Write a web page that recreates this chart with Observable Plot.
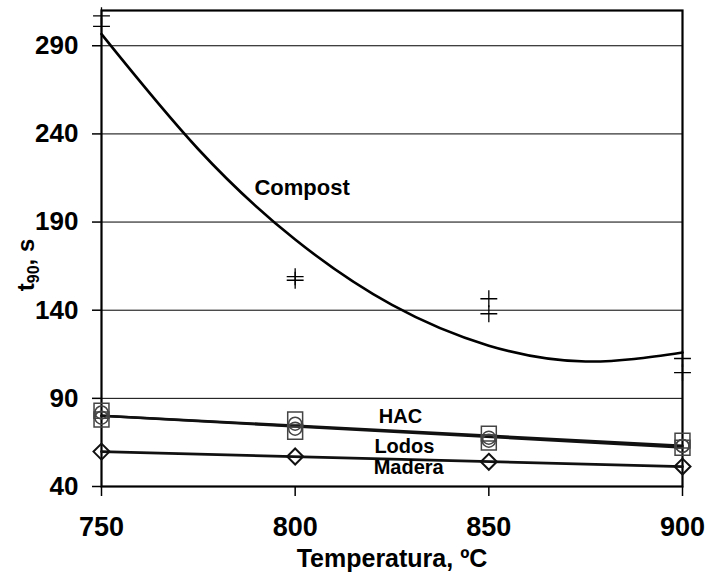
<!DOCTYPE html>
<html>
<head>
<meta charset="utf-8">
<script src="https://cdn.jsdelivr.net/npm/d3@7"></script>
<script src="https://cdn.jsdelivr.net/npm/@observablehq/plot@0.6"></script>
<style>
  html, body { margin: 0; padding: 0; background: #fff; }
  #chart svg { display: block; }
</style>
</head>
<body>
<div id="chart"></div>
<script>
// ---- data ----
const temps = [750, 800, 850, 900];
const compostA = [307, 159, 146.5, 112.6];
const compostB = [301, 157, 138, 104.6];
const hacA = [83, 78, 70, 66];
const hacB = [78, 71, 65, 62];
const lodosA = [82, 75.6, 67.7, 63];
const lodosB = [79, 72.8, 66, 63];
const madera = [59.8, 57, 54, 51.3];
// Compost trend curve
const trendTemps = [750, 775, 800, 825, 850, 875, 900];
const compostTrend = [296.6, 231.3, 180.1, 143, 119.9, 110.9, 116];
// tick values
const xTicks = [750, 800, 850, 900];
const yTicks = [40, 90, 140, 190, 240, 290];
const gridVals = [90, 140, 190, 240, 290];
// series labels
const labelNames = ["Compost", "HAC", "Lodos", "Madera"];
const labelX = [801.8, 827.2, 828.2, 829.3];
const labelY = [209.3, 79.7, 62.7, 50.8];
const labelSize = [22, 20, 20, 20];

const pts = (ys, name) => temps.flatMap((t, i) => ys[i] == null ? [] : [{t, v: ys[i], name}]);
const compostPts = [...pts(compostA, "Compost"), ...pts(compostB, "Compost")];
const hacPts = [...pts(hacA, "HAC"), ...pts(hacB, "HAC")];
const lodosPts = [...pts(lodosA, "Lodos"), ...pts(lodosB, "Lodos")];
const maderaPts = pts(madera, "Madera");
const trend = trendTemps.map((t, i) => ({t, v: compostTrend[i]}));
const labels = labelNames.map((n, i) => ({n, t: labelX[i], v: labelY[i], s: labelSize[i]}));

const font = "'Liberation Sans', Arial, sans-serif";

const chart = Plot.plot({
  width: 707,
  height: 572,
  marginLeft: 101,
  marginRight: 25,
  marginTop: 10,
  marginBottom: 86,
  style: {fontFamily: font, fontWeight: "bold", background: "#fff", overflow: "visible"},
  x: {domain: [750, 900]},
  y: {domain: [40, 310]},
  marks: [
    Plot.ruleY(gridVals, {stroke: "#000", strokeWidth: 1}),
    Plot.axisX({ticks: xTicks, tickSize: 10, tickPadding: 20, fontSize: 27, fontWeight: "bold", strokeWidth: 1.5, label: null, tickFormat: d => String(d)}),
    Plot.axisY({ticks: yTicks, tickSize: 9, tickPadding: 14, fontSize: 26, fontWeight: "bold", strokeWidth: 1.5, label: null, tickFormat: d => String(d)}),
    Plot.frame({stroke: "#000", strokeWidth: 2.2}),
    // trend lines
    Plot.line(trend, {x: "t", y: "v", curve: "natural", stroke: "#000", strokeWidth: 2.6}),
    Plot.linearRegressionY(hacPts, {x: "t", y: "v", stroke: "#111", strokeWidth: 2.6, ci: 0}),
    Plot.linearRegressionY(lodosPts, {x: "t", y: "v", stroke: "#111", strokeWidth: 2.6, ci: 0}),
    Plot.linearRegressionY(maderaPts, {x: "t", y: "v", stroke: "#111", strokeWidth: 2.8, ci: 0}),
    // markers
    Plot.dot(compostPts, {x: "t", y: "v", symbol: "plus", r: 5.5, stroke: "#000", strokeWidth: 1.3}),
    Plot.dot(hacPts, {x: "t", y: "v", symbol: "square2", r: 9.5, stroke: "#444", strokeWidth: 1.5, fill: "none"}),
    Plot.dot(lodosPts, {x: "t", y: "v", symbol: "circle", r: 6.5, stroke: "#444", strokeWidth: 1.5, fill: "none"}),
    Plot.dot(maderaPts, {x: "t", y: "v", symbol: "diamond2", r: 7.2, stroke: "#111", strokeWidth: 2, fill: "none"}),
    // series labels
    Plot.text(labels, {x: "t", y: "v", text: "n", fontSize: "s", fontWeight: "bold", fill: "#000", textAnchor: "middle"}),
    // x axis title
    Plot.text(["Temperatura, ºC"], {frameAnchor: "bottom", dy: 80, fontSize: 25, fontWeight: "bold", fill: "#000"})
  ]
});

// y-axis title with subscript
const svg = d3.select(chart);
const yt = svg.append("text")
  .attr("transform", "translate(34,265) rotate(-90)")
  .attr("text-anchor", "middle")
  .attr("font-family", font)
  .attr("font-weight", "bold")
  .attr("font-size", 24)
  .attr("fill", "#000");
yt.append("tspan").text("t");
yt.append("tspan").attr("font-size", 16).attr("dy", 5).text("90");
yt.append("tspan").attr("dy", -5).text(", s");

document.getElementById("chart").appendChild(chart);
</script>
</body>
</html>
